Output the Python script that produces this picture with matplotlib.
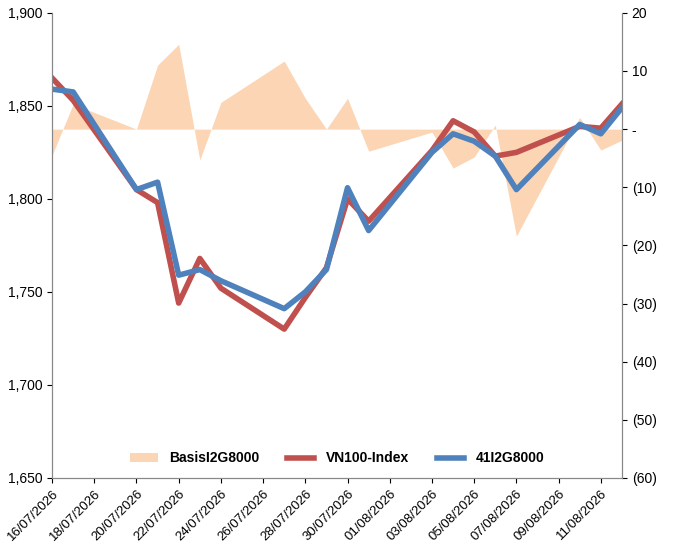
import matplotlib
matplotlib.use("Agg")
import matplotlib.pyplot as plt
import matplotlib.dates as mdates
import matplotlib.ticker as mt
import pandas as pd

dates = ["2026-07-16","2026-07-17","2026-07-20","2026-07-21","2026-07-22","2026-07-23","2026-07-24",
         "2026-07-27","2026-07-28","2026-07-29","2026-07-30","2026-07-31","2026-08-03","2026-08-04",
         "2026-08-05","2026-08-06","2026-08-07","2026-08-10","2026-08-11","2026-08-12"]
vn100 = [1865,1853,1805,1798,1744,1768,1752,1730,1747,1763,1800,1788,1826,1842,1836,1823,1825,1839,1838,1851]
fut = [1859,1857.5,1805,1809,1759,1762,1756,1741,1750,1762,1806,1783,1825,1835,1831,1823,1805,1840,1835,1849]
basis = [-4.5,4.3,0,11,14.6,-5.3,4.6,11.7,5.3,0,5.3,-3.8,-0.5,-6.7,-4.8,0.7,-18.4,2,-3.6,-1.9]

d = pd.to_datetime(dates)
plt.rcParams['font.family'] = ['Liberation Sans', 'DejaVu Sans']
fig = plt.figure(figsize=(6.76,5.59), dpi=100)
ax = fig.add_axes([0.077,0.145,0.843,0.832])
ax2 = ax.twinx()
ax.set_zorder(2); ax.patch.set_visible(False)

ax2.fill_between(d, basis, 0, color='#FCD5B4', lw=0, label='BasisI2G8000')
ax.plot(d, vn100, color='#C0504D', lw=4, label='VN100-Index')
ax.plot(d, fut, color='#4F81BD', lw=4, label='41I2G8000')

ax.set_ylim(1650,1900)
ax2.set_ylim(-60,20)
ax.set_xlim(d[0], d[-1])
ax.yaxis.set_major_locator(mt.MultipleLocator(50))
ax.yaxis.set_major_formatter(mt.FuncFormatter(lambda v,p: f"{v:,.0f}"))
ax2.yaxis.set_major_locator(mt.MultipleLocator(10))
ax2.yaxis.set_major_formatter(mt.FuncFormatter(lambda v,p: "-" if v==0 else (f"({-v:.0f})" if v<0 else f"{v:.0f}")))
ax.xaxis.set_major_locator(mt.FixedLocator(mdates.date2num(pd.date_range("2026-07-16","2026-08-12",freq="2D"))))
ax.xaxis.set_major_formatter(mdates.DateFormatter("%d/%m/%Y"))
for lab in ax.get_xticklabels():
    lab.set_rotation(45); lab.set_ha('right'); lab.set_va('top'); lab.set_rotation_mode('anchor')
    lab.set_fontsize(9.5)
for a in (ax, ax2):
    a.tick_params(axis='y', labelsize=10, colors='black')
    a.spines['top'].set_visible(False)
    for s in a.spines.values(): s.set_color('#888888')

h1,l1 = ax2.get_legend_handles_labels()
h2,l2 = ax.get_legend_handles_labels()
ax.legend(h1+h2, l1+l2, loc='lower center', bbox_to_anchor=(0.5,0.0), ncol=3, frameon=False,
          prop={'size':10, 'weight':'bold'})
fig.savefig("out.png")
